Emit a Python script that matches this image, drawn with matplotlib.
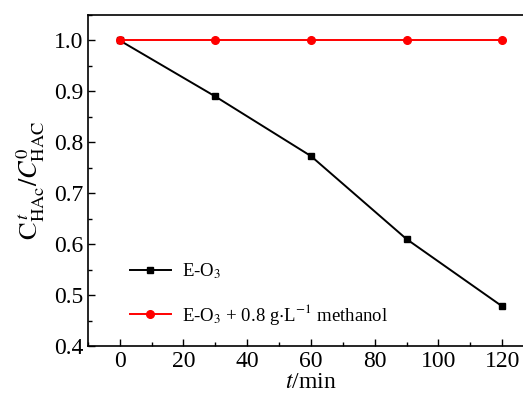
import numpy as np
import matplotlib
matplotlib.use('Agg')
import matplotlib.pyplot as plt
from matplotlib.ticker import MultipleLocator

plt.rcParams['font.family'] = 'Liberation Serif'
plt.rcParams['mathtext.fontset'] = 'stix'

t = [0, 30, 60, 90, 120]
e_o3 = [1.0, 0.89, 0.773, 0.61, 0.478]
e_o3_meoh = [1.0, 1.0, 1.0, 1.0, 1.0]

fig = plt.figure(figsize=(5.23, 4.0), dpi=100)
ax = fig.add_axes([0.168, 0.135, 0.853, 0.8275])

ax.plot(t, e_o3, color='black', marker='s', markersize=4.5, lw=1.4,
        label=r'E-O$_3$')
ax.plot(t, e_o3_meoh, color='red', marker='o', markersize=5.5, lw=1.4,
        label=r'E-O$_3$ + 0.8 g$\cdot$L$^{-1}$ methanol')

ax.set_xlim(-10, 130)
ax.set_ylim(0.4, 1.05)
ax.xaxis.set_minor_locator(MultipleLocator(10))
ax.yaxis.set_major_locator(MultipleLocator(0.1))
ax.yaxis.set_minor_locator(MultipleLocator(0.05))
ax.set_xticks([0, 20, 40, 60, 80, 100, 120])
ax.tick_params(which='both', direction='in', labelsize=17)
ax.tick_params(which='major', length=5, width=1)
ax.tick_params(which='minor', length=3, width=1)
for s in ax.spines.values():
    s.set_linewidth(1.2)

ax.set_xlabel(r'$t$/min', fontsize=17, labelpad=0)
ax.set_ylabel(r'$\mathrm{C}^{\,t}_{\mathrm{HAc}}/C^{0}_{\mathrm{HAC}}$', fontsize=19, labelpad=5)

ax.legend(loc='upper left', bbox_to_anchor=(0.094, 0.255), frameon=False,
          fontsize=13.5, handlelength=2.2, handletextpad=0.6,
          labelspacing=1.1, borderpad=0, borderaxespad=0)

fig.savefig('out.png', dpi=100)
